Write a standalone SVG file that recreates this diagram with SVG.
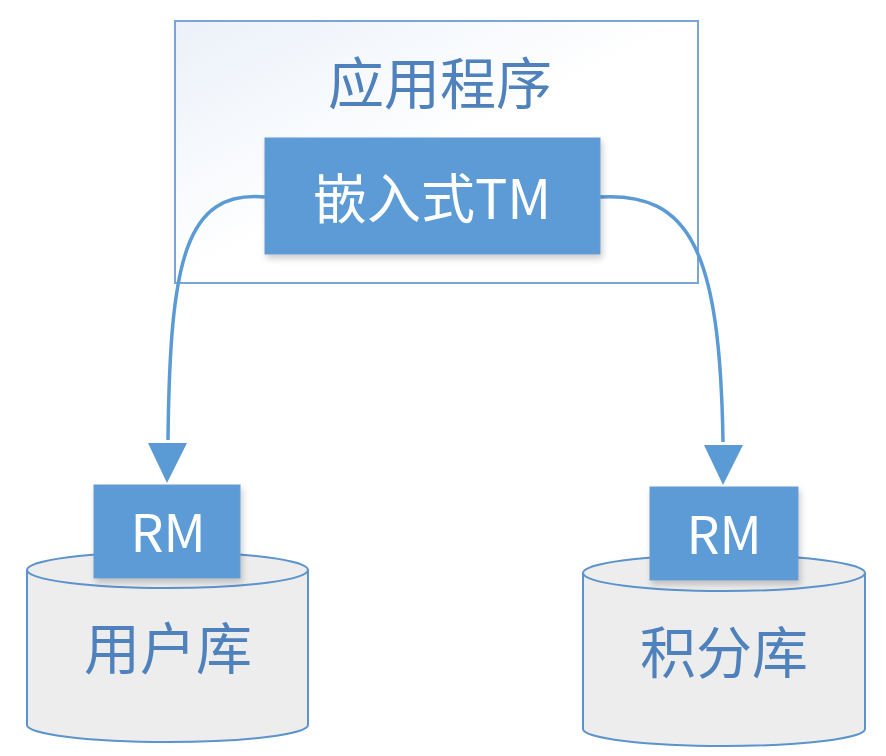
<svg xmlns="http://www.w3.org/2000/svg" width="886" height="756" viewBox="0 0 886 756">
<style>
.t{font-family:"Noto Sans CJK SC","Noto Sans",sans-serif;text-anchor:middle;dominant-baseline:central}
.w{fill:#ffffff}
.b{fill:#4F81BD}
.box{fill:#5B9BD5;stroke:#6A9CCF;stroke-width:1}
.cyl{fill:#EDEDED;stroke:#5B93CC;stroke-width:2}
.con{fill:none;stroke:#5B9BD5;stroke-width:3.5}
</style>
<defs>
<linearGradient id="g" x1="0" y1="0" x2="1" y2="1">
<stop offset="0" stop-color="#EBF1F9"/>
<stop offset="0.5" stop-color="#FFFFFF"/>
<stop offset="1" stop-color="#FFFFFF"/>
</linearGradient>
<filter id="sh" x="-10%" y="-10%" width="130%" height="140%">
<feDropShadow dx="2" dy="4" stdDeviation="3" flood-color="#000" flood-opacity="0.2"/>
</filter>
</defs>
<g id="app">
<rect x="175" y="21" width="523" height="262" fill="url(#g)" stroke="#7BA5D6" stroke-width="2"/>
<text class="t b" x="440" y="79" font-size="56">应用程序</text>
</g>
<g id="userdb">
<path class="cyl" d="M27,570 L27,725 A140.5,17 0 0 0 308,725 L308,570"/>
<ellipse class="cyl" cx="167.5" cy="570" rx="140.5" ry="18"/>
<text class="t b" x="168" y="644" font-size="56">用户库</text>
</g>
<g id="pointdb">
<path class="cyl" d="M583,573 L583,729 A141,17 0 0 0 865,729 L865,573"/>
<ellipse class="cyl" cx="724" cy="573" rx="141" ry="18"/>
<text class="t b" x="724" y="648" font-size="56">积分库</text>
</g>
<g id="connectors">
<path class="con" d="M265,197 C185,190 170,260 168,440"/>
<polygon points="148,443 187,443 167,483" fill="#5B9BD5"/>
<path class="con" d="M600,197 C690,192 720,250 723,442"/>
<polygon points="704,445 743,445 723,485" fill="#5B9BD5"/>
</g>
<g id="tm">
<rect class="box" x="265" y="138" width="335" height="116" filter="url(#sh)"/>
<text class="t w" x="432" y="195" font-size="54">嵌入式TM</text>
</g>
<g id="rm1">
<rect class="box" x="94" y="485" width="146" height="93" filter="url(#sh)"/>
<text class="t w" x="168" y="529" font-size="52">RM</text>
</g>
<g id="rm2">
<rect class="box" x="650" y="487" width="148" height="93" filter="url(#sh)"/>
<text class="t w" x="724" y="531" font-size="52">RM</text>
</g>
</svg>
